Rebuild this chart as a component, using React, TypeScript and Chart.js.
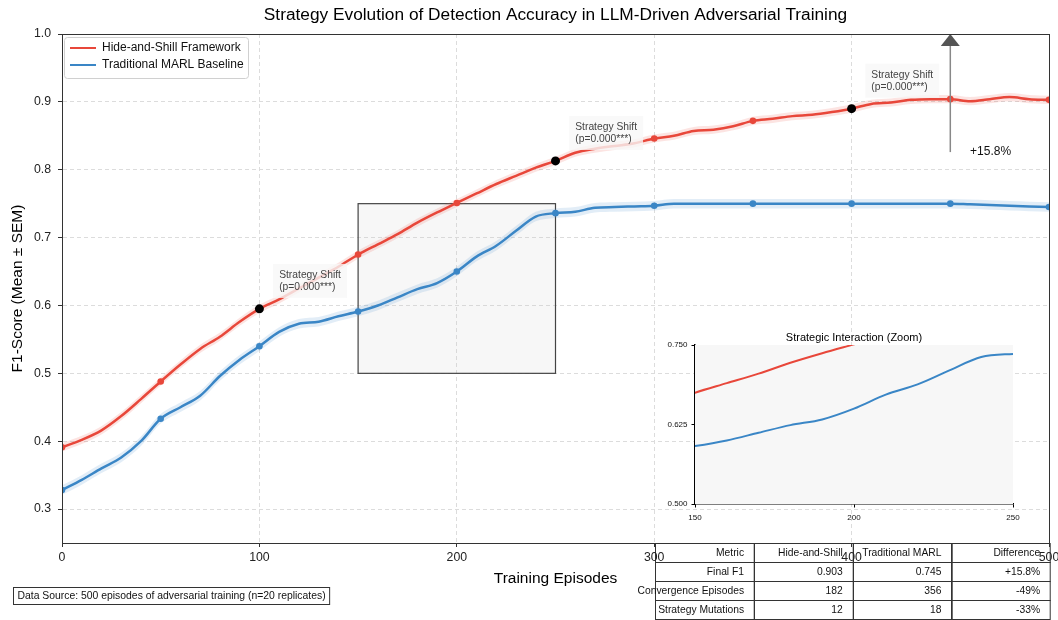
import React, { useEffect, useRef } from "react";
import { Chart, registerables } from "chart.js";
Chart.register(...registerables);

// ---------------- data ----------------
const episodes = [
  0, 10, 20, 30, 40, 50, 60, 70, 80, 90, 100, 110, 120, 130, 140, 150, 160, 170, 180, 190, 200,
  210, 220, 230, 240, 250, 260, 270, 280, 290, 300, 310, 320, 330, 340, 350, 360, 370, 380, 390, 400,
  410, 420, 430, 440, 450, 460, 470, 480, 490, 500,
];
const hideShill = [
  0.391, 0.402, 0.416, 0.437, 0.462, 0.488, 0.513, 0.536, 0.554, 0.576, 0.595, 0.609, 0.625, 0.641,
  0.657, 0.675, 0.690, 0.705, 0.722, 0.737, 0.751, 0.765, 0.779, 0.791, 0.803, 0.813, 0.825, 0.831,
  0.835, 0.839, 0.846, 0.850, 0.857, 0.859, 0.864, 0.872, 0.875, 0.879, 0.881, 0.885, 0.890, 0.897,
  0.899, 0.903, 0.904, 0.904, 0.901, 0.904, 0.907, 0.904, 0.903,
];
const marl = [
  0.328, 0.343, 0.360, 0.376, 0.400, 0.433, 0.450, 0.467, 0.496, 0.520, 0.540, 0.561, 0.573, 0.576,
  0.584, 0.591, 0.600, 0.612, 0.624, 0.633, 0.650, 0.672, 0.688, 0.710, 0.731, 0.736, 0.738, 0.744,
  0.745, 0.746, 0.747, 0.750, 0.750, 0.750, 0.750, 0.750, 0.750, 0.750, 0.750, 0.750, 0.750, 0.750,
  0.750, 0.750, 0.750, 0.750, 0.749, 0.748, 0.747, 0.746, 0.745,
];
const hideSem = 0.006;
const marlSem = 0.007;
const markerEpisodes = [0, 50, 100, 150, 200, 250, 300, 350, 400, 450, 500];
const shiftEpisodes = [100, 250, 400];
const shiftLabel = ["Strategy Shift", "(p=0.000***)"];
const xTicks = [0, 100, 200, 300, 400, 500];
const yTicks = [0.3, 0.4, 0.5, 0.6, 0.7, 0.8, 0.9, 1.0];
const insetXTicks = [150, 200, 250];
const insetYTicks = [0.5, 0.625, 0.75];
const zoomRange = { x0: 150, x1: 250, y0: 0.5, y1: 0.75 };
const improvementEpisode = 450;
const improvementLabel = "+15.8%";
const tableHeader = ["Metric", "Hide-and-Shill", "Traditional MARL", "Difference"];
const tableRows = [
  ["Final F1", "0.903", "0.745", "+15.8%"],
  ["Convergence Episodes", "182", "356", "-49%"],
  ["Strategy Mutations", "12", "18", "-33%"],
];
const seriesNames = ["Hide-and-Shill Framework", "Traditional MARL Baseline"];
const titleText = "Strategy Evolution of Detection Accuracy in LLM-Driven Adversarial Training";
const sourceText = "Data Source: 500 episodes of adversarial training (n=20 replicates)";

// ---------------- style ----------------
const RED = "#e8473a";
const BLUE = "#3a86c6";
const FONT = '"Liberation Sans", Arial, Helvetica, sans-serif';

const pts = (vals: number[], off = 0) => episodes.map((e, i) => ({ x: e, y: vals[i] + off }));

export default function App() {
  const mainRef = useRef<HTMLCanvasElement>(null);
  const insetRef = useRef<HTMLCanvasElement>(null);

  useEffect(() => {
    document.body.style.margin = "0";
    const mainCanvas = mainRef.current!;
    const insetCanvas = insetRef.current!;

    const markerRadius = (r: number) => (ctx: any) =>
      markerEpisodes.includes(episodes[ctx.dataIndex]) ? r : 0;

    const shiftPoints = shiftEpisodes.map((e) => ({ x: e, y: hideShill[episodes.indexOf(e)] }));

    const mainPlugin = {
      id: "mainDecor",
      beforeDraw(chart: any) {
        const ctx = chart.ctx;
        const xs = chart.scales.x;
        // table (drawn first so tick labels sit on top)
        const left = xs.getPixelForValue(300) + 1;
        const right = chart.chartArea.right + 1;
        const top = chart.chartArea.bottom;
        const rowH = 19;
        const colW = (right - left) / 4;
        ctx.save();
        ctx.font = `10.3px ${FONT}`;
        ctx.textBaseline = "middle";
        ctx.textAlign = "right";
        const rows = [tableHeader, ...tableRows];
        rows.forEach((row, r) => {
          row.forEach((cell, c) => {
            const x = left + c * colW;
            const y = top + r * rowH;
            ctx.fillStyle = "#fff";
            ctx.fillRect(x, y, colW, rowH);
          });
        });
        rows.forEach((row, r) => {
          row.forEach((cell, c) => {
            const x = left + c * colW;
            const y = top + r * rowH;
            ctx.strokeStyle = "#333";
            ctx.lineWidth = 1;
            ctx.strokeRect(Math.round(x) + 0.5, Math.round(y) + 0.5, colW, rowH);
            ctx.fillStyle = "#111";
            ctx.fillText(cell, x + colW - colW * 0.1, y + rowH / 2 + 0.5);
          });
        });
        ctx.restore();
      },
      beforeDatasetsDraw(chart: any) {
        const ctx = chart.ctx;
        const xs = chart.scales.x;
        const ys = chart.scales.y;
        const x0 = xs.getPixelForValue(zoomRange.x0);
        const x1 = xs.getPixelForValue(zoomRange.x1);
        const y0 = ys.getPixelForValue(zoomRange.y1);
        const y1 = ys.getPixelForValue(zoomRange.y0);
        ctx.save();
        ctx.fillStyle = "rgba(200,200,200,0.15)";
        ctx.fillRect(x0, y0, x1 - x0, y1 - y0);
        ctx.strokeStyle = "#444";
        ctx.lineWidth = 1.2;
        ctx.strokeRect(x0, y0, x1 - x0, y1 - y0);
        ctx.restore();
      },
      afterDatasetsDraw(chart: any) {
        const ctx = chart.ctx;
        const xs = chart.scales.x;
        const ys = chart.scales.y;
        ctx.save();
        // annotation boxes
        ctx.font = `10.3px ${FONT}`;
        shiftEpisodes.forEach((e) => {
          const v = hideShill[episodes.indexOf(e)];
          const tx = xs.getPixelForValue(e + 10);
          const ty = ys.getPixelForValue(v + 0.05);
          const w = Math.max(...shiftLabel.map((s) => ctx.measureText(s).width));
          ctx.fillStyle = "rgba(248,248,248,0.8)";
          ctx.fillRect(tx - 6, ty - 11, w + 12, 34);
          ctx.fillStyle = "#444";
          ctx.textAlign = "left";
          ctx.textBaseline = "middle";
          shiftLabel.forEach((s, i) => ctx.fillText(s, tx, ty + i * 12));
        });
        // arrow
        const ax = xs.getPixelForValue(improvementEpisode);
        const yStart = ys.getPixelForValue(0.826);
        const tip = ys.getPixelForValue(1.0);
        ctx.strokeStyle = "#888";
        ctx.lineWidth = 1.5;
        ctx.beginPath();
        ctx.moveTo(ax, yStart);
        ctx.lineTo(ax, tip + 12);
        ctx.stroke();
        ctx.fillStyle = "#555";
        ctx.beginPath();
        ctx.moveTo(ax, tip);
        ctx.lineTo(ax - 9.5, tip + 12);
        ctx.lineTo(ax + 9.5, tip + 12);
        ctx.closePath();
        ctx.fill();
        ctx.fillStyle = "#111";
        ctx.font = `12px ${FONT}`;
        ctx.textAlign = "left";
        ctx.textBaseline = "middle";
        ctx.fillText(improvementLabel, xs.getPixelForValue(improvementEpisode + 10), yStart);
        // legend
        const lx = chart.chartArea.left + 2;
        const ly = chart.chartArea.top + 3;
        ctx.fillStyle = "rgba(255,255,255,0.85)";
        ctx.strokeStyle = "#d0d0d0";
        ctx.lineWidth = 1;
        ctx.beginPath();
        (ctx as any).roundRect(lx + 0.5, ly + 0.5, 184, 41, 3);
        ctx.fill();
        ctx.stroke();
        [RED, BLUE].forEach((c, i) => {
          const yy = ly + 11 + i * 17;
          ctx.strokeStyle = c;
          ctx.lineWidth = 2;
          ctx.beginPath();
          ctx.moveTo(lx + 6, yy);
          ctx.lineTo(lx + 32, yy);
          ctx.stroke();
          ctx.fillStyle = "#111";
          ctx.font = `12px ${FONT}`;
          ctx.fillText(seriesNames[i], lx + 38, yy);
        });
        ctx.restore();
      },
      afterDraw(chart: any) {
        const ctx = chart.ctx;
        const a = chart.chartArea;
        ctx.save();
        // frame
        ctx.strokeStyle = "#333";
        ctx.lineWidth = 1;
        ctx.strokeRect(Math.round(a.left) + 0.5, Math.round(a.top) + 0.5, Math.round(a.right - a.left), Math.round(a.bottom - a.top));
        // title
        ctx.fillStyle = "#000";
        ctx.font = `17.3px ${FONT}`;
        ctx.textAlign = "center";
        ctx.textBaseline = "middle";
        ctx.fillText(titleText, (a.left + a.right) / 2, 15);
        // axis titles
        ctx.font = `15.5px ${FONT}`;
        ctx.fillText("Training Episodes", (a.left + a.right) / 2, 579);
        ctx.save();
        ctx.translate(18, (a.top + a.bottom) / 2);
        ctx.rotate(-Math.PI / 2);
        ctx.fillText("F1-Score (Mean ± SEM)", 0, 0);
        ctx.restore();
        // data source
        ctx.font = `10.4px ${FONT}`;
        ctx.textAlign = "left";
        const w = ctx.measureText(sourceText).width;
        ctx.fillStyle = "#fff";
        ctx.fillRect(13.5, 587.5, w + 8, 17);
        ctx.strokeStyle = "#333";
        ctx.strokeRect(13.5, 587.5, w + 8, 17);
        ctx.fillStyle = "#111";
        ctx.fillText(sourceText, 17.5, 596.5);
        ctx.restore();
      },
    };

    const lineCommon = {
      cubicInterpolationMode: "monotone" as const,
      pointBorderWidth: 0,
      pointHoverRadius: 0,
    };

    const main = new Chart(mainCanvas, {
      type: "line",
      data: {
        datasets: [
          {
            data: shiftPoints,
            showLine: false,
            pointRadius: 4.5,
            pointBackgroundColor: "#000",
            pointBorderColor: "#000",
            pointBorderWidth: 0,
          },
          {
            data: pts(hideShill),
            borderColor: RED,
            borderWidth: 2.5,
            pointRadius: markerRadius(3.3),
            pointBackgroundColor: RED,
            fill: false,
            ...lineCommon,
          },
          {
            data: pts(marl),
            borderColor: BLUE,
            borderWidth: 2.5,
            pointRadius: markerRadius(3.3),
            pointBackgroundColor: BLUE,
            fill: false,
            ...lineCommon,
          },
          {
            data: pts(hideShill, hideSem),
            borderWidth: 0,
            pointRadius: 0,
            fill: "+1",
            backgroundColor: "rgba(232,71,58,0.15)",
            ...lineCommon,
          },
          { data: pts(hideShill, -hideSem), borderWidth: 0, pointRadius: 0, fill: false, ...lineCommon },
          {
            data: pts(marl, marlSem),
            borderWidth: 0,
            pointRadius: 0,
            fill: "+1",
            backgroundColor: "rgba(58,134,198,0.15)",
            ...lineCommon,
          },
          { data: pts(marl, -marlSem), borderWidth: 0, pointRadius: 0, fill: false, ...lineCommon },
        ] as any,
      },
      options: {
        animation: false,
        responsive: false,
        events: [],
        layout: { padding: { top: 34, right: 9, left: 0, bottom: 0 } },
        plugins: { legend: { display: false }, tooltip: { enabled: false }, title: { display: false } },
        scales: {
          x: {
            type: "linear",
            min: 0,
            max: 500,
            afterBuildTicks: (s: any) => {
              s.ticks = xTicks.map((v) => ({ value: v }));
            },
            afterFit: (s: any) => {
              s.height = 77;
              s.paddingLeft = 0;
              s.paddingRight = 0;
            },
            grid: {
              color: "#dcdcdc",
              lineWidth: 1,
              tickColor: "#333",
              tickLength: 4,
              tickBorderDash: [],
            },
            border: { display: true, color: "#333", width: 1, dash: [4, 3] },
            ticks: { color: "#222", font: { family: FONT, size: 12.3 }, padding: 3, maxRotation: 0 },
          },
          y: {
            type: "linear",
            min: 0.25,
            max: 1.0,
            afterBuildTicks: (s: any) => {
              s.ticks = yTicks.map((v) => ({ value: v }));
            },
            afterFit: (s: any) => {
              s.width = 62;
              s.paddingTop = 0;
              s.paddingBottom = 0;
            },
            grid: {
              color: "#dcdcdc",
              lineWidth: 1,
              tickColor: "#333",
              tickLength: 4,
              tickBorderDash: [],
            },
            border: { display: true, color: "#333", width: 1, dash: [4, 3] },
            ticks: {
              color: "#222",
              font: { family: FONT, size: 12.3 },
              padding: 7,
              callback: (v: any) => Number(v).toFixed(1),
            },
          },
        },
      },
      plugins: [mainPlugin],
    });

    const insetPlugin = {
      id: "insetDecor",
      beforeDatasetsDraw(chart: any) {
        const a = chart.chartArea;
        const ctx = chart.ctx;
        ctx.save();
        ctx.fillStyle = "#f7f7f7";
        ctx.fillRect(a.left, a.top, a.right - a.left, a.bottom - a.top);
        ctx.restore();
      },
      afterDraw(chart: any) {
        const a = chart.chartArea;
        const ctx = chart.ctx;
        ctx.save();
        ctx.fillStyle = "#000";
        ctx.font = `11px ${FONT}`;
        ctx.textAlign = "center";
        ctx.textBaseline = "middle";
        ctx.fillText("Strategic Interaction (Zoom)", (a.left + a.right) / 2, a.top - 7);
        ctx.restore();
      },
    };

    const inset = new Chart(insetCanvas, {
      type: "line",
      data: {
        datasets: [
          { data: pts(hideShill), borderColor: RED, borderWidth: 2, pointRadius: 0, fill: false, ...lineCommon },
          { data: pts(marl), borderColor: BLUE, borderWidth: 2, pointRadius: 0, fill: false, ...lineCommon },
        ] as any,
      },
      options: {
        animation: false,
        responsive: false,
        events: [],
        layout: { padding: { top: 20, right: 45, left: 0, bottom: 0 } },
        plugins: { legend: { display: false }, tooltip: { enabled: false } },
        scales: {
          x: {
            type: "linear",
            min: zoomRange.x0,
            max: zoomRange.x1,
            afterBuildTicks: (s: any) => {
              s.ticks = insetXTicks.map((v) => ({ value: v }));
            },
            afterFit: (s: any) => {
              s.height = 21;
              s.paddingLeft = 0;
              s.paddingRight = 0;
            },
            grid: { display: true, drawOnChartArea: false, drawTicks: true, tickLength: 3.5, tickColor: "#000" },
            border: { display: true, color: "#000", width: 1.5 },
            ticks: { color: "#111", font: { family: FONT, size: 8 }, padding: 5, maxRotation: 0 },
          },
          y: {
            type: "linear",
            min: zoomRange.y0,
            max: zoomRange.y1,
            afterBuildTicks: (s: any) => {
              s.ticks = insetYTicks.map((v) => ({ value: v }));
            },
            afterFit: (s: any) => {
              s.width = 55;
              s.paddingTop = 0;
              s.paddingBottom = 0;
            },
            grid: { display: true, drawOnChartArea: false, drawTicks: true, tickLength: 3.5, tickColor: "#000" },
            border: { display: true, color: "#000", width: 1.5 },
            ticks: {
              color: "#111",
              font: { family: FONT, size: 8 },
              padding: 4,
              callback: (v: any) => Number(v).toFixed(3),
            },
          },
        },
      },
      plugins: [insetPlugin],
    });

    return () => {
      main.destroy();
      inset.destroy();
    };
  }, []);

  return (
    <div style={{ position: "relative", width: 1058, height: 620, background: "#fff" }}>
      <canvas ref={mainRef} width={1058} height={620} style={{ position: "absolute", left: 0, top: 0 }} />
      <canvas ref={insetRef} width={418} height={200} style={{ position: "absolute", left: 640, top: 325 }} />
    </div>
  );
}
